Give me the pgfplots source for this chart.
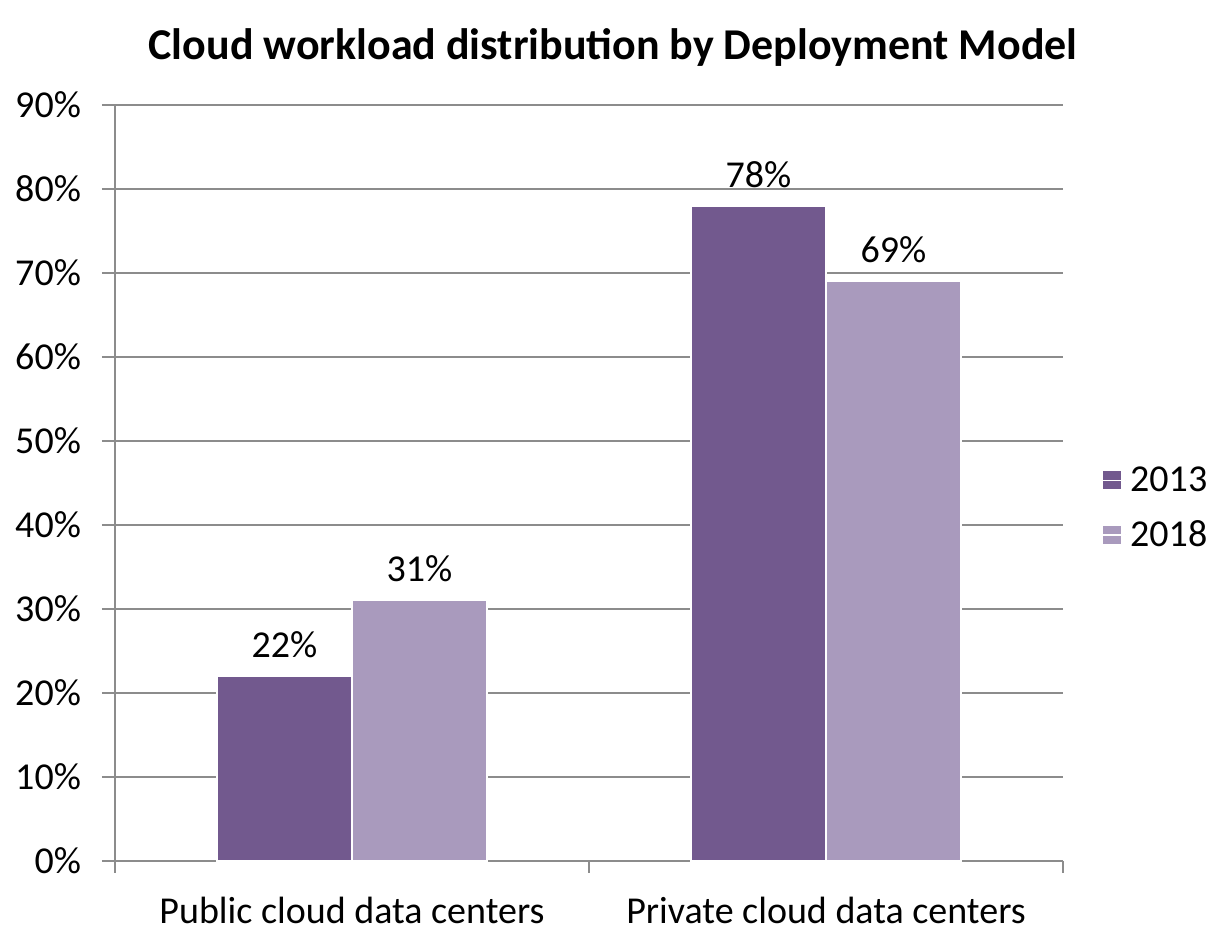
\documentclass[border=0pt]{standalone}
\usepackage{fontspec}
\setmainfont{Carlito}
\usepackage{pgfplots}
\pgfplotsset{compat=1.18}
\definecolor{darkp}{HTML}{72598E}
\definecolor{lightp}{HTML}{A99ABD}
\definecolor{gridc}{HTML}{8C8C8C}
\begin{document}
\begin{tikzpicture}
\begin{axis}[
  at={(0,0)}, anchor=south west,
  scale only axis,
  width=474pt, height=378pt,
  ybar=0pt, bar width=67.5pt,
  xmin=-0.5, xmax=1.5,
  ymin=0, ymax=90,
  xtick={0,1},
  xticklabels={Public cloud data centers, Private cloud data centers},
  minor xtick={-0.5,0.5,1.5},
  ytick={0,10,...,90},
  yticklabel={\pgfmathprintnumber{\tick}\%},
  ymajorgrids, grid style={gridc, line width=0.6pt},
  tick align=outside,
  major tick length=6.5pt,
  minor tick length=6pt,
  xtick style={draw=none},
  minor x tick style={draw=gridc, line width=0.6pt},
  ytick style={draw=gridc, line width=0.6pt},
  axis x line*=bottom, axis y line*=left,
  axis line style={gridc, line width=0.6pt, -},
  tick label style={font=\fontsize{19}{23}\selectfont},
  xticklabel style={yshift=-8pt},
  yticklabel style={xshift=-7pt},
  /pgf/number format/assume math mode=true,
  nodes near coords={\pgfmathprintnumber{\pgfplotspointmeta}\%},
  nodes near coords style={font=\fontsize{19}{23}\selectfont, black, yshift=5.5pt},
  title={\bfseries Cloud workload distribution by Deployment Model},
  title style={font=\fontsize{22}{26}\selectfont, yshift=10pt, xshift=12pt},
  legend style={at={(1.035,0.467)}, anchor=west, draw=none, fill=none,
    font=\fontsize{19}{23}\selectfont, row sep=9pt},
  legend cell align=left,
  legend image code/.code={\fill[#1, draw=none] (0pt,-4.5pt) rectangle (9pt,4.5pt); \path (0pt,0pt) -- (11pt,0pt);},
  clip=false,
]
\addplot[fill=darkp, draw=white, line width=0.8pt] coordinates {(0,22) (1,78)};
\addplot[fill=lightp, draw=white, line width=0.8pt] coordinates {(0,31) (1,69)};
\legend{2013,2018}
\end{axis}
\useasboundingbox (-57.5pt,-42pt) rectangle (557pt,430.5pt);
\end{tikzpicture}
\end{document}
